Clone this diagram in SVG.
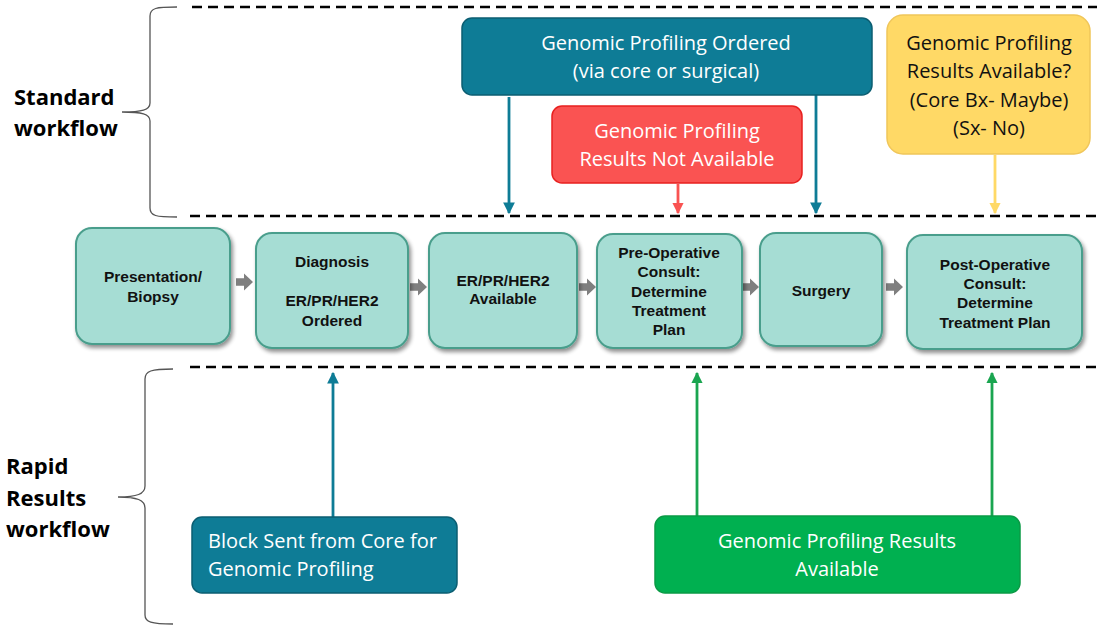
<svg xmlns="http://www.w3.org/2000/svg" width="1097" height="625" viewBox="0 0 1097 625">
<defs>
  <filter id="sh" x="-10%" y="-10%" width="130%" height="130%">
    <feGaussianBlur in="SourceAlpha" stdDeviation="2"/>
    <feOffset dx="2" dy="3" result="o"/>
    <feComponentTransfer><feFuncA type="linear" slope="0.45"/></feComponentTransfer>
    <feMerge><feMergeNode/><feMergeNode in="SourceGraphic"/></feMerge>
  </filter>
  <marker id="mTeal" viewBox="0 0 10 10" refX="9" refY="5" markerWidth="4.4" markerHeight="4.2" orient="auto" markerUnits="strokeWidth">
    <path d="M0,0 L10,5 L0,10 z" fill="#0e7c96"/>
  </marker>
  <marker id="mRed" viewBox="0 0 10 10" refX="9" refY="5" markerWidth="4" markerHeight="4" orient="auto" markerUnits="strokeWidth">
    <path d="M0,0 L10,5 L0,10 z" fill="#f95352"/>
  </marker>
  <marker id="mYel" viewBox="0 0 10 10" refX="9" refY="5" markerWidth="4" markerHeight="4" orient="auto" markerUnits="strokeWidth">
    <path d="M0,0 L10,5 L0,10 z" fill="#ffd966"/>
  </marker>
  <marker id="mGrn" viewBox="0 0 10 10" refX="9" refY="5" markerWidth="4.2" markerHeight="4" orient="auto" markerUnits="strokeWidth">
    <path d="M0,0 L10,5 L0,10 z" fill="#1aa550"/>
  </marker>
  <path id="garrow" d="M0,-3.8 L8,-3.8 L8,-8.5 L17,0 L8,8.5 L8,3.8 L0,3.8 z"/>
</defs>
<style>
  .dash { stroke:#000; stroke-width:2.6; stroke-dasharray:10 6; fill:none; }
  .brace { stroke:#555; stroke-width:1.3; fill:none; }
  .side { font-family:"Open Sans","Noto Sans",sans-serif; font-weight:bold; font-size:22px; fill:#000; }
  .proc rect { fill:#a6ddd4; stroke:#4a9e8c; stroke-width:2; }
  .proc text { font-family:"Liberation Sans",Arial,sans-serif; font-weight:bold; font-size:15.5px; fill:#111; text-anchor:middle; }
  .lbl { font-family:"Open Sans","Noto Sans",sans-serif; font-size:20px; text-anchor:middle; }
  .w { fill:#fff; }
  .k { fill:#111; }
  .gray { fill:#7f7f7f; }
</style>

<!-- section dividers and braces -->
<g id="dividers">
  <line class="dash" x1="192" y1="7" x2="1097" y2="7"/>
  <line class="dash" x1="190" y1="216" x2="1097" y2="216"/>
  <line class="dash" x1="190" y1="367" x2="1097" y2="367"/>
  <path class="brace" d="M177,7 C156,7 150,8 150,16 L150,103 C150,110 142,112 122,112 C142,112 150,114 150,121 L150,208 C150,216 156,217 177,217"/>
  <path class="brace" d="M173,369 C151,369 145,371 145,379 L145,486 C145,494 137,497 118,497 C137,497 145,500 145,508 L145,615 C145,622 151,624 173,624"/>
  <text class="side" x="14" y="105">Standard</text>
  <text class="side" x="14" y="136">workflow</text>
  <text class="side" x="6" y="474">Rapid</text>
  <text class="side" x="6" y="506">Results</text>
  <text class="side" x="6" y="537">workflow</text>
</g>

<!-- connectors -->
<g id="connectors">
  <line x1="509" y1="97" x2="509" y2="213" stroke="#0e7c96" stroke-width="2.8" marker-end="url(#mTeal)"/>
  <line x1="816" y1="95" x2="816" y2="213" stroke="#0e7c96" stroke-width="2.8" marker-end="url(#mTeal)"/>
  <line x1="678" y1="184" x2="678" y2="213" stroke="#f95352" stroke-width="2.8" marker-end="url(#mRed)"/>
  <line x1="995" y1="155" x2="995" y2="213" stroke="#ffd966" stroke-width="2.8" marker-end="url(#mYel)"/>
  <line x1="333" y1="517" x2="333" y2="373" stroke="#0e7c96" stroke-width="2.8" marker-end="url(#mTeal)"/>
  <line x1="697" y1="516" x2="697" y2="373" stroke="#1aa550" stroke-width="2.8" marker-end="url(#mGrn)"/>
  <line x1="992" y1="516" x2="992" y2="373" stroke="#1aa550" stroke-width="2.8" marker-end="url(#mGrn)"/>
  <use href="#garrow" class="gray" x="236" y="282"/>
  <use href="#garrow" class="gray" x="410" y="287"/>
  <use href="#garrow" class="gray" x="579" y="287"/>
  <use href="#garrow" class="gray" x="742" y="287"/>
  <use href="#garrow" class="gray" x="886" y="287"/>
</g>

<!-- process nodes -->
<g id="n-presentation" class="proc">
  <rect x="76" y="228" width="154" height="116" rx="16" filter="url(#sh)"/>
  <text x="153" y="282">Presentation/</text>
  <text x="153" y="302">Biopsy</text>
</g>
<g id="n-diagnosis" class="proc">
  <rect x="256" y="233" width="152" height="115" rx="16" filter="url(#sh)"/>
  <text x="332" y="267">Diagnosis</text>
  <text x="332" y="306">ER/PR/HER2</text>
  <text x="332" y="326">Ordered</text>
</g>
<g id="n-erpr" class="proc">
  <rect x="429" y="233" width="148" height="115" rx="16" filter="url(#sh)"/>
  <text x="503" y="286">ER/PR/HER2</text>
  <text x="503" y="304">Available</text>
</g>
<g id="n-preop" class="proc">
  <rect x="597" y="234" width="145" height="114" rx="16" filter="url(#sh)"/>
  <text x="669" y="258">Pre-Operative</text>
  <text x="669" y="277">Consult:</text>
  <text x="669" y="297">Determine</text>
  <text x="669" y="316">Treatment</text>
  <text x="669" y="335">Plan</text>
</g>
<g id="n-surgery" class="proc">
  <rect x="760" y="233" width="122" height="113" rx="16" filter="url(#sh)"/>
  <text x="821" y="296">Surgery</text>
</g>
<g id="n-postop" class="proc">
  <rect x="907" y="235" width="175" height="114" rx="16" filter="url(#sh)"/>
  <text x="995" y="270">Post-Operative</text>
  <text x="995" y="289">Consult:</text>
  <text x="995" y="308">Determine</text>
  <text x="995" y="328">Treatment Plan</text>
</g>

<!-- top nodes -->
<g id="n-gp-ordered">
  <rect x="462" y="18" width="410" height="77" rx="10" fill="#0e7c96" stroke="#0b5e72" stroke-width="1.5"/>
  <text class="lbl w" x="666" y="50">Genomic Profiling Ordered</text>
  <text class="lbl w" x="666" y="78">(via core or surgical)</text>
</g>
<g id="n-gp-notavail">
  <rect x="552" y="106" width="250" height="77" rx="10" fill="#fa5352" stroke="#e8201f" stroke-width="1.5"/>
  <text class="lbl w" x="677" y="138">Genomic Profiling</text>
  <text class="lbl w" x="677" y="166">Results Not Available</text>
</g>
<g id="n-gp-maybe">
  <rect x="887" y="15" width="203" height="139" rx="16" fill="#ffd966" stroke="#f0c65a" stroke-width="1.5"/>
  <text class="lbl k" x="989" y="50">Genomic Profiling</text>
  <text class="lbl k" x="989" y="78">Results Available?</text>
  <text class="lbl k" x="989" y="107">(Core Bx- Maybe)</text>
  <text class="lbl k" x="989" y="135">(Sx- No)</text>
</g>

<!-- bottom nodes -->
<g id="n-block">
  <rect x="192" y="517" width="265" height="76" rx="10" fill="#0e7c96" stroke="#0b5e72" stroke-width="1.5"/>
  <text class="lbl w" x="208" y="548" style="text-anchor:start">Block Sent from Core for</text>
  <text class="lbl w" x="208" y="576" style="text-anchor:start">Genomic Profiling</text>
</g>
<g id="n-gp-avail">
  <rect x="655" y="516" width="365" height="77" rx="10" fill="#00b050" stroke="#0a9a45" stroke-width="1.5"/>
  <text class="lbl w" x="837" y="548">Genomic Profiling Results</text>
  <text class="lbl w" x="837" y="576">Available</text>
</g>
</svg>
